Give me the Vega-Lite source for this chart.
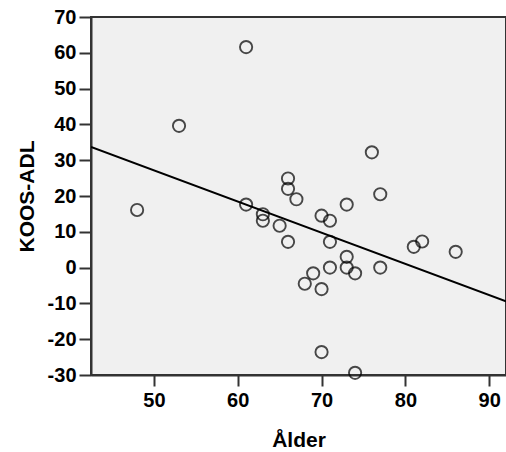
{
  "$schema": "https://vega.github.io/schema/vega-lite/v6.json",
  "width": 415,
  "height": 358,
  "autosize": "none",
  "padding": {"left": 91, "top": 17, "right": 0, "bottom": 77},
  "background": "white",
  "config": {
    "view": {"fill": "#f0f0f0", "stroke": "#333333", "strokeWidth": 2}
  },
  "datasets": {
    "pts": [
      {"age": 61, "koos": 61.6}, {"age": 53, "koos": 39.6}, {"age": 48, "koos": 16.1},
      {"age": 61, "koos": 17.6}, {"age": 63, "koos": 14.9}, {"age": 63, "koos": 13.1},
      {"age": 65, "koos": 11.7}, {"age": 66, "koos": 24.9}, {"age": 66, "koos": 22.0},
      {"age": 67, "koos": 19.1}, {"age": 66, "koos": 7.2}, {"age": 70, "koos": 14.5},
      {"age": 71, "koos": 13.1}, {"age": 71, "koos": 7.2}, {"age": 73, "koos": 17.6},
      {"age": 76, "koos": 32.2}, {"age": 77, "koos": 20.5}, {"age": 73, "koos": 3.0},
      {"age": 73, "koos": 0.0}, {"age": 71, "koos": 0.0}, {"age": 74, "koos": -1.6},
      {"age": 77, "koos": 0.0}, {"age": 69, "koos": -1.6}, {"age": 68, "koos": -4.5},
      {"age": 70, "koos": -6.0}, {"age": 81, "koos": 5.8}, {"age": 82, "koos": 7.3},
      {"age": 86, "koos": 4.4}, {"age": 70, "koos": -23.6}, {"age": 74, "koos": -29.4}
    ],
    "fit": [
      {"age": 42.5, "koos": 33.7}, {"age": 92.0, "koos": -9.4}
    ]
  },
  "encoding": {
    "x": {"field": "age", "type": "quantitative", "title": "Ålder",
          "scale": {"domain": [42.5, 92], "nice": false, "zero": false},
          "axis": {"values": [50, 60, 70, 80, 90], "titlePadding": 19,
                   "labelFont": "Liberation Sans", "labelFontWeight": "bold", "labelFontSize": 20, "labelColor": "#000",
                   "titleFont": "Liberation Sans", "titleFontWeight": "bold", "titleFontSize": 21, "titleColor": "#000",
                   "domainColor": "#333", "domainWidth": 2, "tickColor": "#333", "tickWidth": 2, "tickSize": 11,
                   "grid": false, "labelPadding": 4, "labelOverlap": false, "labelFlush": false}},
    "y": {"field": "koos", "type": "quantitative", "title": "KOOS-ADL",
          "scale": {"domain": [-30, 70], "nice": false, "zero": false},
          "axis": {"values": [-30, -20, -10, 0, 10, 20, 30, 40, 50, 60, 70], "titlePadding": 10,
                   "labelExpr": "'' + datum.value",
                   "labelFont": "Liberation Sans", "labelFontWeight": "bold", "labelFontSize": 20, "labelColor": "#000",
                   "titleFont": "Liberation Sans", "titleFontWeight": "bold", "titleFontSize": 21, "titleColor": "#000",
                   "domainColor": "#333", "domainWidth": 2, "tickColor": "#333", "tickWidth": 2, "tickSize": 12,
                   "grid": false, "labelPadding": 3, "labelOverlap": false, "labelFlush": false}}
  },
  "layer": [
    {
      "data": {"name": "fit"},
      "mark": {"type": "line", "color": "black", "strokeWidth": 2, "clip": true}
    },
    {
      "data": {"name": "pts"},
      "mark": {"type": "point", "shape": "circle", "filled": false, "color": "black", "strokeWidth": 1.9, "size": 150, "clip": false}
    }
  ]
}
